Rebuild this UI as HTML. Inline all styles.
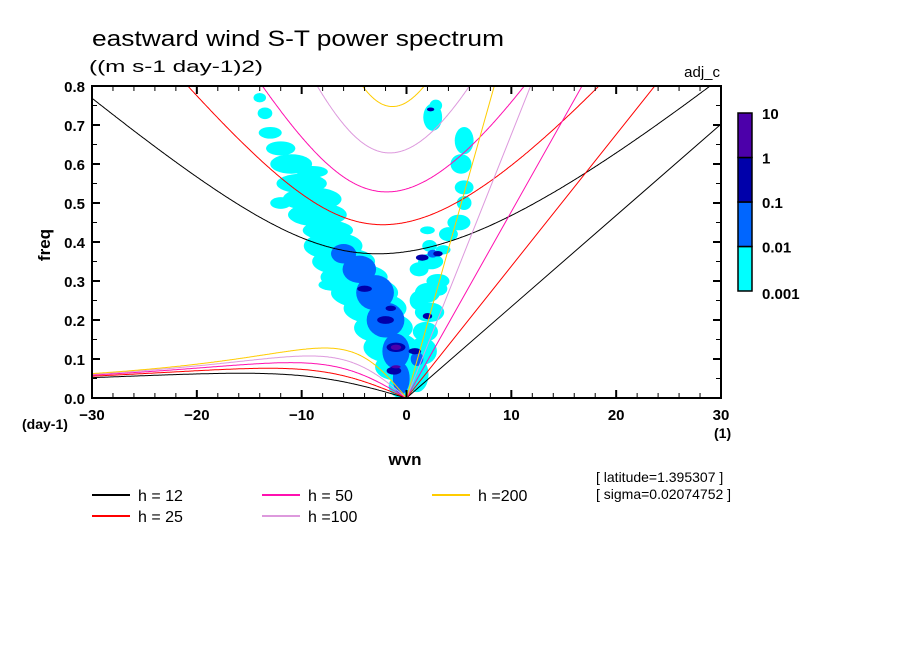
<!DOCTYPE html>
<html><head><meta charset="utf-8"><style>
body{margin:0;background:#fff;}
svg text{font-family:"Liberation Sans",sans-serif;fill:#000;}
</style></head><body>
<svg id="chart" width="904" height="654" xmlns="http://www.w3.org/2000/svg">
<defs><clipPath id="pc"><rect x="92" y="86" width="629" height="312"/></clipPath></defs>
<text x="92" y="46" font-size="22" textLength="412" lengthAdjust="spacingAndGlyphs">eastward wind S-T power spectrum</text>
<text x="89" y="72" font-size="17" textLength="174" lengthAdjust="spacingAndGlyphs">((m s-1 day-1)2)</text>
<text x="720" y="77" font-size="15" text-anchor="end">adj_c</text>
<g id="shade" clip-path="url(#pc)"></g>
<g id="curves" clip-path="url(#pc)"></g>
<g id="axes"></g>
<g id="cbar"></g>
<text x="22" y="429" font-size="14" font-weight="bold">(day-1)</text>
<text x="714" y="438" font-size="14" font-weight="bold">(1)</text>
<text x="405" y="465" font-size="17" text-anchor="middle" font-weight="bold">wvn</text>
<text transform="translate(50,245) rotate(-90)" font-size="17" text-anchor="middle" font-weight="bold">freq</text>
<text x="596" y="482" font-size="14">[ latitude=1.395307 ]</text>
<text x="596" y="499" font-size="14">[ sigma=0.02074752 ]</text>
<g id="legend"></g>
</svg>
<script>
const NS="http://www.w3.org/2000/svg";
const depths=[12,25,50,100,200];
const depthColors=["#000000","#ff0000","#ff10b0","#dd99dd","#ffcc00"];
const levelColors=["#00ffff","#0066ff","#0000aa","#4c00aa"];
const levelLabels=["0.001","0.01","0.1","1","10"];
const xTicks=[-30,-20,-10,0,10,20,30];
const yTicks=[0,0.1,0.2,0.3,0.4,0.5,0.6,0.7,0.8];
// blobs: wvn, freq, radius-wvn, radius-freq, level index
const blobWvn=[-0.5,-1,-1.5,-2.2,-3,-4,-5,-6,-7,-7.5,-8.5,-9,-10,-11,-12,-13,-13.5,-14,-12,1,1.5,1.8,2.2,2,3,2.3,5.5,5.2,5.5,5.5,5,4,2.2,3.5,1.2,3,2.5,2.8,2,1.2,-9,-7,
 -0.5,-1,-2,-3,-4.5,-6,1,2.5,
 -1,-1.2,-2,-4,-1.5,0.8,2,1.5,3,2.3,
 -1,-1];
const blobFreq=[0.03,0.08,0.13,0.18,0.23,0.27,0.31,0.35,0.39,0.43,0.47,0.51,0.55,0.6,0.64,0.68,0.73,0.77,0.5,0.06,0.12,0.17,0.22,0.27,0.3,0.35,0.66,0.6,0.54,0.5,0.45,0.42,0.39,0.38,0.33,0.28,0.72,0.75,0.43,0.25,0.58,0.29,
 0.05,0.12,0.2,0.27,0.33,0.37,0.1,0.37,
 0.13,0.07,0.2,0.28,0.23,0.12,0.21,0.36,0.37,0.74,
 0.13,0.08];
const blobRw=[1.2,2,2.6,2.8,3,3.2,3.2,3,2.8,2.4,2.8,2.8,2.4,2,1.4,1.1,0.7,0.6,1,1.1,1.4,1.2,1.4,1.2,1.1,1.2,0.9,1,0.9,0.7,1.1,0.9,0.7,0.7,0.9,0.9,0.9,0.6,0.7,0.9,1.5,1.4,
 0.8,1.3,1.8,1.8,1.6,1.2,0.6,0.5,
 0.9,0.7,0.8,0.7,0.5,0.6,0.45,0.6,0.45,0.35,
 0.5,0.45];
const blobRf=[0.03,0.035,0.04,0.04,0.04,0.04,0.035,0.035,0.035,0.025,0.03,0.03,0.025,0.025,0.018,0.015,0.015,0.012,0.015,0.045,0.035,0.025,0.025,0.025,0.018,0.02,0.035,0.025,0.018,0.018,0.02,0.018,0.015,0.012,0.018,0.018,0.035,0.015,0.01,0.025,0.015,0.015,
 0.04,0.045,0.045,0.045,0.035,0.025,0.018,0.01,
 0.012,0.01,0.01,0.008,0.007,0.008,0.008,0.008,0.007,0.005,
 0.007,0.004];
const blobLevel=[0,0,0,0,0,0,0,0,0,0,0,0,0,0,0,0,0,0,0,0,0,0,0,0,0,0,0,0,0,0,0,0,0,0,0,0,0,0,0,0,0,0,
 1,1,1,1,1,1,1,1,
 2,2,2,2,2,2,2,2,2,2,
 3,3];
const X0=92,X1=721,Y0=398,Y1=86;
function sx(w){return X0+(w+30)/60*(X1-X0);}
function sy(f){return Y0-f/0.8*(Y0-Y1);}
function mk(tag,attrs,parent){const e=document.createElementNS(NS,tag);for(const k in attrs)e.setAttribute(k,attrs[k]);parent.appendChild(e);return e;}
const shade=document.getElementById('shade');
for(let lv=0;lv<4;lv++){
 for(let i=0;i<blobWvn.length;i++){ if(blobLevel[i]!==lv)continue;
  const e=mk('ellipse',{cx:sx(blobWvn[i]),cy:sy(blobFreq[i]),rx:blobRw[i]/60*(X1-X0),ry:blobRf[i]/0.8*(Y0-Y1),fill:levelColors[lv]},shade);
  
  
 }
}
// dispersion curves
const a=6.371e6,Om=7.292e-5,beta=2*Om/a,g=9.8;
function roots(wvn,c){const k=wvn/a;const p=-c*c*(k*k+3*beta/c),q=-c*c*beta*k;
 const m=2*Math.sqrt(-p/3);const th=Math.acos(Math.max(-1,Math.min(1,3*q/(2*p)*Math.sqrt(-3/p))))/3;
 return [0,1,2].map(j=>m*Math.cos(th-2*Math.PI*j/3)*86400/(2*Math.PI));}
const curves=document.getElementById('curves');
depths.forEach((h,i)=>{const c=Math.sqrt(g*h);let ig="",ro="";
 for(let w=-30;w<=30.001;w+=0.1){const r=roots(w,c);const big=Math.max(...r);
  ig+=(ig?"L":"M")+sx(w).toFixed(1)+","+sy(big).toFixed(1);
  if(w<0){const sm=Math.min(...r.filter(v=>v>0&&v<big));ro+=(ro?"L":"M")+sx(w).toFixed(1)+","+sy(sm).toFixed(1);}}
 ro+="L"+sx(0)+","+sy(0);
 let p=mk('path',{d:ig,fill:"none",stroke:depthColors[i],"stroke-width":1},curves);
 
 
 p=mk('path',{d:ro,fill:"none",stroke:depthColors[i],"stroke-width":1},curves);
 
 
 const fk=c*(30/a)*86400/(2*Math.PI);
 p=mk('line',{x1:sx(0),y1:sy(0),x2:sx(30),y2:sy(fk),stroke:depthColors[i],"stroke-width":1},curves);
 
 
});
// axes
const ax=document.getElementById('axes');
mk('rect',{x:X0,y:Y1,width:X1-X0,height:Y0-Y1,fill:"none",stroke:"#000","stroke-width":2},ax);
for(let w=-30;w<=30;w+=2){const maj=w%10===0;const L=maj?8:5;
 mk('line',{x1:sx(w),y1:Y0,x2:sx(w),y2:Y0-L,stroke:"#000","stroke-width":maj?2:1},ax);
 mk('line',{x1:sx(w),y1:Y1,x2:sx(w),y2:Y1+L,stroke:"#000","stroke-width":maj?2:1},ax);}
for(let j=0;j<=16;j++){const f=j*0.05;const maj=j%2===0;const L=maj?8:5;
 mk('line',{x1:X0,y1:sy(f),x2:X0+L,y2:sy(f),stroke:"#000","stroke-width":maj?2:1},ax);
 mk('line',{x1:X1,y1:sy(f),x2:X1-L,y2:sy(f),stroke:"#000","stroke-width":maj?2:1},ax);}
xTicks.forEach(w=>{const t=mk('text',{x:sx(w),y:420,"font-size":15,"font-weight":"bold","text-anchor":"middle"},ax);t.textContent=(w<0?"\u2212"+(-w):""+w);
 
 });
yTicks.forEach(f=>{const t=mk('text',{x:85,y:sy(f)+6,"font-size":15,"font-weight":"bold","text-anchor":"end"},ax);t.textContent=f.toFixed(1);
 
 });
// colorbar
const cb=document.getElementById('cbar');
for(let i=0;i<4;i++){const top=291-(i+1)*44.5;
 const r=mk('rect',{x:738,y:top,width:14,height:44.5,fill:levelColors[i],stroke:"#000","stroke-width":1.5},cb);
 
 }
levelLabels.forEach((l,i)=>{const t=mk('text',{x:762,y:291-i*44.5+(i===0?8:6),"font-size":15,"font-weight":"bold"},cb);t.textContent=l;
 
 });
// legend
const lg=document.getElementById('legend');
const legTxt=["h = 12","h = 50","h =200","h = 25","h =100"];
const order=[0,2,4,1,3];
order.forEach((di,n)=>{const col=n<3?n:n-3;const row=n<3?0:1;const x=92+col*170,y=495+row*21;
 const l=mk('line',{x1:x,y1:y,x2:x+38,y2:y,stroke:depthColors[di],"stroke-width":2},lg);
 
 
 const t=mk('text',{x:x+46,y:y+6,"font-size":16},lg);t.textContent=legTxt[n];
 
 });
</script>
</body></html>
